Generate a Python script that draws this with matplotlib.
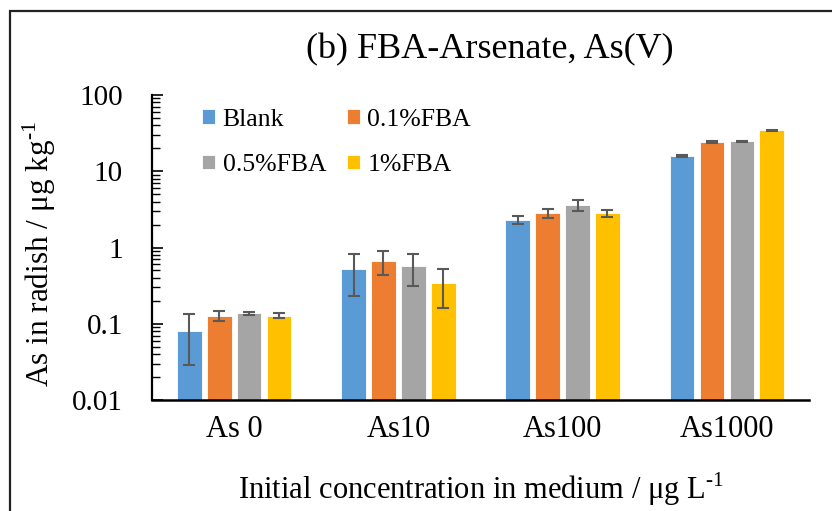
import matplotlib
matplotlib.use("Agg")
import matplotlib.pyplot as plt
from matplotlib.patches import Rectangle
from matplotlib.ticker import LogLocator, NullFormatter
import numpy as np

# Data
groups = ["As 0", "As10", "As100", "As1000"]
series = ["Blank", "0.1%FBA", "0.5%FBA", "1%FBA"]
blank = [0.081, 0.53, 2.30, 15.8]
fba_01 = [0.128, 0.67, 2.81, 24.2]
fba_05 = [0.137, 0.57, 3.65, 24.9]
fba_1 = [0.128, 0.34, 2.81, 34.4]
blank_err = [0.052, 0.30, 0.28, 0.3]
fba_01_err = [0.019, 0.23, 0.40, 0.4]
fba_05_err = [0.007, 0.26, 0.60, 0.4]
fba_1_err = [0.010, 0.18, 0.32, 0.5]

colors = ["#5B9BD5", "#ED7D31", "#A5A5A5", "#FFC000"]

plt.rcParams["font.family"] = ["Liberation Serif", "DejaVu Serif"]

fig = plt.figure(figsize=(8.32, 5.11), dpi=100)
ax = fig.add_axes([0.1827, 0.2172, 0.7897, 0.5969])

x = np.arange(len(groups))
step = 0.182
width = 0.15
values = [blank, fba_01, fba_05, fba_1]
errors = [blank_err, fba_01_err, fba_05_err, fba_1_err]
bars = []
for i, (vals, errs) in enumerate(zip(values, errors)):
    b = ax.bar(x + (i - 1.5) * step, vals, width, color=colors[i], label=series[i],
               edgecolor="white", linewidth=0.6,
               yerr=errs, capsize=4,
               error_kw=dict(ecolor="#595959", elinewidth=1.5, capthick=1.5))
    bars.append(b)

ax.set_yscale("log")
ax.set_ylim(0.01, 100)
ax.set_xlim(-0.5, 3.5)
ax.yaxis.set_minor_locator(LogLocator(base=10, subs=np.arange(2, 10), numticks=20))
ax.yaxis.set_minor_formatter(NullFormatter())
ax.set_yticks([0.01, 0.1, 1, 10, 100])
ax.set_yticklabels(["0.01", "0.1", "1", "10", "100"])
ax.set_xticks(x)
ax.set_xticklabels(groups)

ax.tick_params(axis="y", which="major", direction="in", length=8, width=1.2,
               labelsize=21, pad=21)
ax.tick_params(axis="y", which="minor", direction="in", length=6, width=1.0)
ax.tick_params(axis="x", length=0, labelsize=22, pad=11)

for side in ["top", "right"]:
    ax.spines[side].set_visible(False)
ax.spines["left"].set_linewidth(1.6)
ax.spines["bottom"].set_linewidth(1.8)

# legend is filled row by row in the reference
order = [0, 2, 1, 3]
ax.legend([bars[i] for i in order], [series[i] for i in order],
          ncol=2, loc="upper left", bbox_to_anchor=(0.243, 0.787),
          bbox_transform=fig.transFigure, frameon=False, fontsize=18.5,
          handlelength=0.5, handleheight=0.5, handletextpad=0.3,
          columnspacing=0.8, labelspacing=0.9, borderpad=0,
          borderaxespad=0)

fig.text(0.589, 0.902, "(b) FBA-Arsenate, As(V)", ha="center", va="center",
         fontsize=26)
fig.text(0.047, 0.503, "As in radish / μg kg$^{\\mathregular{\u2010}\\mathregular{1}}$",
         rotation=90, ha="center", va="center", fontsize=22.5)
fig.text(0.578, 0.042,
         "Initial concentration in medium / μg L$^{\\mathregular{\u2010}\\mathregular{1}}$",
         ha="center", va="center", fontsize=22)

fig.patches.append(Rectangle((0.012, -0.1), 1.2, 1.0785, transform=fig.transFigure,
                             fill=False, edgecolor="#222222", linewidth=1.6))

fig.savefig("out.png", dpi=100)
